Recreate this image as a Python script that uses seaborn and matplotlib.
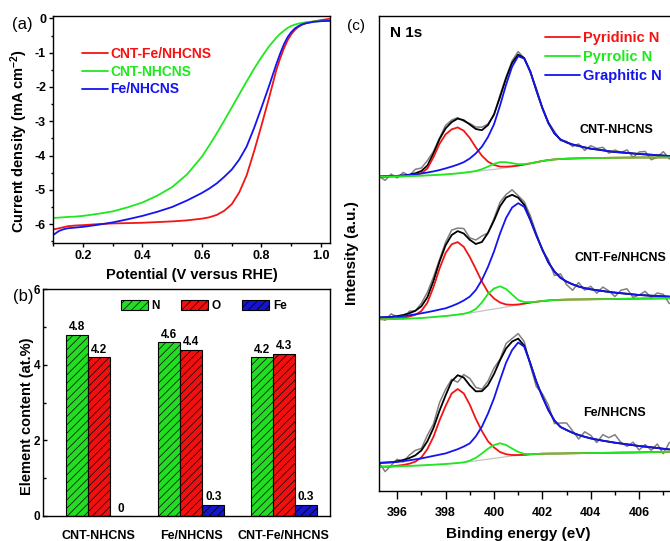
import numpy as np
import pandas as pd
import matplotlib
matplotlib.use("Agg")
import matplotlib.pyplot as plt
import seaborn as sns
from matplotlib.lines import Line2D
from matplotlib.patches import Patch
from matplotlib.ticker import MultipleLocator

# ---------------- data: (a) LSV curves ----------------
potential = [0.1, 0.11, 0.12, 0.135, 0.15, 0.175, 0.2, 0.25, 0.3, 0.35,
             0.4, 0.45, 0.5, 0.55, 0.6, 0.625, 0.65, 0.675, 0.7, 0.725,
             0.75, 0.775, 0.8, 0.825, 0.85, 0.8625, 0.875, 0.8875, 0.9, 0.9125,
             0.925, 0.9375, 0.95, 0.975, 1.0, 1.03]
j_cnt_fe = [-6.15, -6.14, -6.12, -6.09, -6.06, -6.04, -6.03, -6.0, -5.98, -5.97,
            -5.96, -5.94, -5.92, -5.89, -5.84, -5.8, -5.73, -5.61, -5.42, -5.08,
            -4.58, -3.88, -3.12, -2.33, -1.5, -1.17, -0.88, -0.64, -0.46, -0.33,
            -0.24, -0.18, -0.14, -0.09, -0.05, -0.01]
j_cnt = [-5.82, -5.815, -5.81, -5.8, -5.79, -5.78, -5.76, -5.7, -5.63, -5.51,
         -5.37, -5.17, -4.92, -4.55, -4.03, -3.7, -3.35, -2.98, -2.6, -2.22,
         -1.84, -1.47, -1.13, -0.82, -0.56, -0.45, -0.36, -0.28, -0.22, -0.18,
         -0.15, -0.13, -0.11, -0.09, -0.08, -0.07]
j_fe = [-6.32, -6.26, -6.2, -6.15, -6.12, -6.1, -6.08, -6.02, -5.95, -5.86,
        -5.76, -5.64, -5.5, -5.31, -5.09, -4.96, -4.81, -4.62, -4.41, -4.12,
        -3.74, -3.2, -2.6, -1.98, -1.33, -1.03, -0.76, -0.55, -0.4, -0.29,
        -0.22, -0.17, -0.14, -0.1, -0.08, -0.07]
lsv_names = ["CNT-Fe/NHCNS", "CNT-NHCNS", "Fe/NHCNS"]

# ---------------- data: (b) element content ----------------
bar_samples = ["CNT-NHCNS", "Fe/NHCNS", "CNT-Fe/NHCNS"]
elements = ["N", "O", "Fe"]
content_N = [4.8, 4.6, 4.2]
content_O = [4.2, 4.4, 4.3]
content_Fe = [0.0, 0.3, 0.3]

# ---------------- data: (c) N 1s XPS ----------------
energy = [395.25, 395.5, 395.75, 396.0, 396.25, 396.5, 396.75, 397.0, 397.25, 397.5,
          397.75, 398.0, 398.25, 398.5, 398.75, 399.0, 399.25, 399.5, 399.75, 400.0,
          400.25, 400.5, 400.75, 401.0, 401.25, 401.5, 401.75, 402.0, 402.25, 402.5,
          402.75, 403.0, 403.25, 403.5, 403.75, 404.0, 404.25, 404.5, 404.75, 405.0,
          405.25, 405.5, 405.75, 406.0, 406.25, 406.5, 406.75, 407.0, 407.25]

# CNT-NHCNS
bg_cnt = [0, 0.1, 0.2, 0.3, 0.45, 0.6, 0.8, 1.0, 1.3, 1.6,
          1.95, 2.3, 2.8, 3.3, 4.0, 4.7, 5.3, 6.0, 6.6, 7.3,
          8.1, 9.0, 10.0, 11.0, 12.1, 13.3, 14.5, 15.7, 16.6, 17.3,
          17.7, 18.0, 18.2, 18.35, 18.5, 18.7, 18.75, 18.8, 18.9, 19.0,
          19.05, 19.1, 19.15, 19.2, 19.2, 19.25, 19.25, 19.3, 19.3]
pyridinic_cnt = [0, 0, 0, 0, 0, 0.3, 1, 2.5, 7, 18,
                 31, 40, 44.5, 46, 42, 34, 24, 15, 8.5, 4.5,
                 2, 1, 0.4, 0.1] + [0.0] * 25
pyrrolic_cnt = [0.0] * 16 + [0.4, 1.5, 3.5, 5.5, 6.5, 5.5, 3.5, 1.5, 0.5] + [0.0] * 24
graphitic_cnt = [0.2, 0.3, 0.4, 0.5, 0.8, 1.1, 1.6, 2.2, 2.9, 3.7,
                 4.7, 6, 7.3, 8.8, 10.5, 13.5, 18, 24, 33, 45,
                 63, 83, 100, 109.5, 106, 92, 72, 53, 37, 26,
                 19.5, 16.3, 14, 12.4, 10.8, 9.3, 8.5, 7.6, 6.6, 5.7,
                 5.2, 4.7, 4.1, 3.5, 3.1, 2.7, 2.2, 1.8, 1.4]
resid_cnt = [0, -4, 2, -2, 3, -1, 4, 3, 5, 2,
             1, 3, 2, 1, -1, 1, 2, 3, 1, -1,
             2, 1, 2, 3, 0, -1, 2, 0, 1, 2,
             -1, 1, -2, 2, -3, 3, 1, 3, -2, 2,
             0, 3, -4, 2, 3, -5, -2, 4, -3]

# CNT-Fe/NHCNS
bg_cntfe = [0, 0.1, 0.2, 0.3, 0.5, 0.75, 1.0, 1.3, 1.75, 2.25,
            2.8, 3.3, 4.0, 4.7, 5.5, 6.3, 7.3, 8.3, 9.3, 10.3,
            11.3, 12.3, 13.3, 14.3, 15.5, 16.7, 17.5, 18.3, 18.8, 19.3,
            19.5, 19.7, 19.8, 19.85, 19.9, 20.0, 20.1, 20.15, 20.2, 20.3,
            20.4, 20.5, 20.6, 20.7, 20.75, 20.8, 20.9, 20.95, 21.0]
pyridinic_cntfe = [0, 0, 0, 0.5, 1, 2, 3.5, 7, 15, 30,
                   48, 63, 71, 72.5, 67, 56, 43, 29.5, 18, 10.5,
                   5.5, 2.5, 1.2, 0.5, 0.2] + [0.0] * 24
pyrrolic_cntfe = [0.0] * 15 + [0.8, 3, 8.5, 16, 20.5, 21.7, 18, 11.5, 5, 1.8, 0.5] + [0.0] * 23
graphitic_cntfe = [1.8, 2, 2.2, 2.4, 2.8, 3.3, 4, 4.7, 5.4, 6.1,
                   6.9, 7.7, 9.2, 11, 13.3, 16.4, 22, 31, 43, 57.4,
                   74.5, 89, 98.5, 101.8, 97, 82.6, 66.5, 51.5, 38, 28.5,
                   22, 18, 15.2, 12.9, 11.3, 10, 9, 8.1, 7.2, 6.4,
                   5.7, 5, 4.3, 3.6, 3.2, 2.8, 2.4, 2, 1.7]
resid_cntfe = [0, -3, 3, -1, -4, 2, 0, 3, 5, 4,
               2, 3, 5, 3, 5, 2, 4, 6, 0, 2,
               4, 3, 5, 2, 3, 4, 2, -1, 3, -4,
               4, -3, -6, 4, -2, 3, -3, 4, 1, -4,
               3, 5, -3, 0, 4, -2, 3, 2, -7]

# Fe/NHCNS
bg_fe = [0, 0.1, 0.2, 0.3, 0.55, 0.8, 1.05, 1.3, 1.65, 2.0,
         2.35, 2.7, 3.2, 3.7, 4.35, 5.0, 5.85, 6.7, 7.5, 8.3,
         9.15, 10.0, 10.65, 11.3, 11.8, 12.3, 12.65, 13.0, 13.1, 13.15,
         13.2, 13.3, 13.4, 13.5, 13.6, 13.7, 13.75, 13.8, 13.9, 14.0,
         14.1, 14.15, 14.2, 14.3, 14.45, 14.6, 14.7, 14.85, 15.0]
pyridinic_fe = [0, 0, 0, 0.7, 1.2, 2.2, 4, 8, 16, 28,
                44, 58, 70, 74, 69, 57, 42, 29, 18, 11,
                5.5, 2.5, 1, 0.4] + [0.0] * 25
pyrrolic_fe = [0.0] * 15 + [1, 3, 6.5, 10.5, 13.3, 14.3, 11.7, 7.5, 3.5, 1, 0.3] + [0.0] * 23
graphitic_fe = [3.8, 4, 4.2, 4.4, 5, 5.6, 6.3, 7, 7.9, 8.8,
                9.7, 10.6, 12.2, 13.8, 15.8, 18.3, 24.5, 33.3, 45.5, 60,
                77.5, 94, 106, 112.9, 108.3, 91, 72.5, 57, 43.5, 33,
                26.5, 23.4, 20.5, 18.2, 16.3, 14.6, 13.4, 12.2, 11.1, 10,
                9.1, 8.2, 7.3, 6.4, 5.6, 4.8, 4, 3.1, 2.3]
resid_fe = [0, -9, -3, 2, -2, 3, 5, 2, 6, 4,
            8, 6, 2, -7, 3, 7, 4, 2, 4, 6,
            1, 5, 3, 5, 4, -2, -5, 3, 5, -3,
            4, 7, 2, -4, 5, 3, -3, 6, 4, 8,
            1, -2, 3, -4, 2, -3, 4, -5, 7]

component_names = ["Pyridinic N", "Pyrrolic N", "Graphitic N"]

# ---------------- style ----------------
sns.set_style("ticks")
plt.rcParams["font.family"] = ["Liberation Sans", "DejaVu Sans"]
plt.rcParams["font.weight"] = "bold"
plt.rcParams["axes.labelweight"] = "bold"
plt.rcParams["axes.unicode_minus"] = False
plt.rcParams["mathtext.fontset"] = "custom"
plt.rcParams["mathtext.rm"] = "Liberation Sans:bold"
plt.rcParams["mathtext.bf"] = "Liberation Sans:bold"
plt.rcParams["mathtext.it"] = "Liberation Sans:bold"
plt.rcParams["hatch.linewidth"] = 0.5
plt.rcParams["axes.edgecolor"] = "black"
plt.rcParams["axes.linewidth"] = 1.0
plt.rcParams["xtick.color"] = "black"
plt.rcParams["ytick.color"] = "black"
plt.rcParams["text.color"] = "black"
plt.rcParams["axes.labelcolor"] = "black"

RED = "#f41414"
GREEN = "#1fe81f"
BLUE = "#1414f0"

W, H = 670, 541
fig = plt.figure(figsize=(W / 100, H / 100), dpi=100)

def box(l, t, r, b):
    return [l / W, 1 - b / H, (r - l) / W, (b - t) / H]

# ---------------- (a) ----------------
axA = fig.add_axes(box(53, 16, 330, 243))
n = len(potential)
lsv = pd.DataFrame({
    "V": potential * 3,
    "J": j_cnt_fe + j_cnt + j_fe,
    "sample": [lsv_names[0]] * n + [lsv_names[1]] * n + [lsv_names[2]] * n,
})
lsv_colors = {lsv_names[0]: RED, lsv_names[1]: GREEN, lsv_names[2]: BLUE}
sns.lineplot(data=lsv, x="V", y="J", hue="sample", hue_order=lsv_names, palette=lsv_colors,
             ax=axA, linewidth=1.3, legend=False, estimator=None, sort=True)
axA.set_xlim(0.1, 1.03)
axA.set_ylim(-6.55, 0.07)
axA.xaxis.set_minor_locator(MultipleLocator(0.1))
axA.yaxis.set_major_locator(MultipleLocator(1))
axA.yaxis.set_minor_locator(MultipleLocator(0.5))
axA.set_xticks([0.2, 0.4, 0.6, 0.8, 1.0])
axA.set_xticklabels(["0.2", "0.4", "0.6", "0.8", "1.0"])
axA.tick_params(which="major", length=3, width=1, labelsize=9, pad=2)
axA.tick_params(which="minor", length=1.8, width=1)
axA.set_xlabel("Potential (V versus RHE)", fontsize=10.5)
axA.set_ylabel("Current density (mA cm$^{-2}$)", fontsize=10.5)
axA.xaxis.set_label_coords(0.5, -0.11)
axA.yaxis.set_label_coords(-0.082, 0.45)
hA = [Line2D([], [], color=lsv_colors[k], lw=1.3) for k in lsv_names]
legA = axA.legend(hA, lsv_names, loc="upper left", bbox_to_anchor=(0.104, 0.864), frameon=False,
                  fontsize=10, handlelength=1.9, handletextpad=0.15, labelspacing=0.27,
                  borderpad=0, borderaxespad=0)
for t, k in zip(legA.get_texts(), lsv_names):
    t.set_color(lsv_colors[k])
    t.set_fontweight("bold")

# ---------------- (b) ----------------
axB = fig.add_axes(box(42.7, 289.3, 330, 516))
bars = pd.DataFrame({
    "sample": bar_samples * 3,
    "element": ["N"] * 3 + ["O"] * 3 + ["Fe"] * 3,
    "content": content_N + content_O + content_Fe,
})
bar_colors = {"N": "#22dd22", "O": "#f01010", "Fe": "#1515d0"}
sns.barplot(data=bars, x="sample", y="content", hue="element", hue_order=elements,
            order=bar_samples, palette=bar_colors, width=0.714, saturation=1,
            edgecolor="black", linewidth=0.8, ax=axB, legend=False, errorbar=None)
for cont in axB.containers:
    for p in cont:
        p.set_hatch("////")
        p.set_edgecolor("black")
    axB.bar_label(cont, fmt="%g", padding=1, fontsize=8.5, fontweight="bold")
axB.set_xlim(-0.605, 2.5)
axB.set_ylim(0, 6)
axB.yaxis.set_major_locator(MultipleLocator(2))
axB.yaxis.set_minor_locator(MultipleLocator(1))
axB.tick_params(axis="y", which="major", direction="in", length=3, width=1, labelsize=8.5, pad=2)
axB.tick_params(axis="y", which="minor", direction="in", length=1.8, width=1)
axB.tick_params(axis="x", length=0, labelsize=9, pad=10)
axB.set_xlabel("")
axB.set_ylabel("Element content (at.%)", fontsize=10.5)
axB.yaxis.set_label_coords(-0.03, 0.44)
hB = [Patch(facecolor=bar_colors[e], edgecolor="black", hatch="////", linewidth=0.8) for e in elements]
legB = axB.legend(hB, elements, loc="upper left", bbox_to_anchor=(0.272, 0.955), ncol=3, frameon=False,
                  fontsize=8.5, handlelength=2.3, handleheight=1.0, handletextpad=0.3,
                  columnspacing=1.8, borderpad=0, borderaxespad=0)
for t in legB.get_texts():
    t.set_fontweight("bold")

# ---------------- (c) ----------------
axC = fig.add_axes(box(379.3, 16, 671.3, 490.7))
spectra = [
    ("CNT-NHCNS", 314.0, bg_cnt, pyridinic_cnt, pyrrolic_cnt, graphitic_cnt, resid_cnt),
    ("CNT-Fe/NHCNS", 171.4, bg_cntfe, pyridinic_cntfe, pyrrolic_cntfe, graphitic_cntfe, resid_cntfe),
    ("Fe/NHCNS", 24.0, bg_fe, pyridinic_fe, pyrrolic_fe, graphitic_fe, resid_fe),
]
E = np.array(energy)
for name, off, bg, pyd, pyr, gra, res in spectra:
    bg = np.array(bg); pyd = np.array(pyd); pyr = np.array(pyr); gra = np.array(gra)
    env = bg + pyd + pyr + gra
    raw = env + np.array(res)
    sns.lineplot(x=E, y=raw + off, ax=axC, color="#808080", linewidth=1.1)
    sns.lineplot(x=E, y=bg + off, ax=axC, color="#c4c4c4", linewidth=0.9)
    sns.lineplot(x=E, y=env + off, ax=axC, color="black", linewidth=1.3)
    sns.lineplot(x=E, y=bg + pyd + off, ax=axC, color=RED, linewidth=1.3)
    sns.lineplot(x=E, y=bg + gra + off, ax=axC, color=BLUE, linewidth=1.3)
    sns.lineplot(x=E, y=bg + pyr + off, ax=axC, color=GREEN, linewidth=1.3)

axC.set_xlim(395.26, 407.33)
axC.set_ylim(0, 474.7)
axC.set_yticks([])
axC.xaxis.set_major_locator(MultipleLocator(2))
axC.xaxis.set_minor_locator(MultipleLocator(1))
axC.tick_params(axis="x", which="major", length=6, width=1, labelsize=9, pad=5.5)
axC.tick_params(axis="x", which="minor", length=3, width=1)
axC.set_xlabel("Binding energy (eV)", fontsize=11)
axC.set_ylabel("Intensity (a.u.)", fontsize=11)
axC.xaxis.set_label_coords(0.475, -0.076)
axC.yaxis.set_label_coords(-0.068, 0.5)
comp_colors = [RED, GREEN, BLUE]
hC = [Line2D([], [], color=c, lw=1.3) for c in comp_colors]
legC = axC.legend(hC, component_names, loc="upper left", bbox_to_anchor=(0.567, 0.969), frameon=False,
                  fontsize=10.5, handlelength=2.4, handletextpad=0.2, labelspacing=0.36,
                  borderpad=0, borderaxespad=0)
for t, c in zip(legC.get_texts(), comp_colors):
    t.set_color(c)
    t.set_fontweight("bold")
axC.text(0.0914, 0.964, "N 1s", transform=axC.transAxes, fontsize=11, fontweight="bold",
         ha="center", va="center")
for (name, *_), (tx, ty) in zip(spectra, [(0.811, 0.760), (0.8245, 0.490), (0.806, 0.1637)]):
    axC.text(tx, ty, name, transform=axC.transAxes, fontsize=9, fontweight="bold",
             ha="center", va="center")

# panel letters
fig.text(22 / W, 1 - 25 / H, "(a)", fontsize=12, fontweight="normal", ha="center", va="center")
fig.text(23 / W, 1 - 297 / H, "(b)", fontsize=12, fontweight="normal", ha="center", va="center")
fig.text(356 / W, 1 - 26 / H, "(c)", fontsize=11, fontweight="normal", ha="center", va="center")

fig.savefig("out.png", dpi=100)
